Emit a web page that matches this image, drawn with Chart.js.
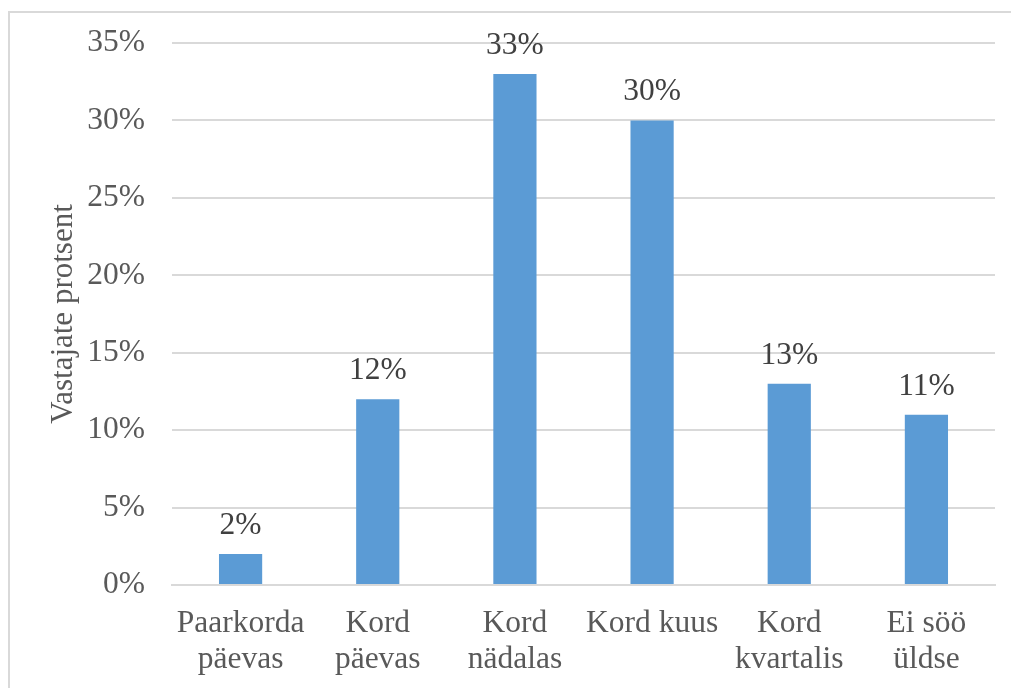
<!DOCTYPE html>
<html>
<head>
<meta charset="utf-8">
<script src="https://cdn.jsdelivr.net/npm/chart.js@4"></script>
<style>
  html, body { margin: 0; padding: 0; background: #fff; overflow: hidden; }
  #frame { position: absolute; left: 8px; top: 11px; width: 1100px; height: 800px; border: 2px solid #d9d9d9; box-sizing: border-box; }
  #wrap { position: absolute; left: 0; top: 0; width: 1011px; height: 688px; }
</style>
</head>
<body>
<div id="frame"></div>
<div id="wrap"><canvas id="c" width="1011" height="688"></canvas></div>
<script>
const categories = [
  ["Paarkorda", "päevas"],
  ["Kord", "päevas"],
  ["Kord", "nädalas"],
  "Kord kuus",
  ["Kord", "kvartalis"],
  ["Ei söö", "üldse"]
];
const shares = [2, 12, 33, 30, 13, 11];
const yTicks = [0, 5, 10, 15, 20, 25, 30, 35];
const axisTitle = "Vastajate protsent";

const FONT = "'Liberation Serif', 'Times New Roman', serif";
const TEXT = "#595959";

// percentage label above each bar
const valueLabels = {
  id: 'valueLabels',
  afterDatasetsDraw(chart) {
    const ctx = chart.ctx;
    const meta = chart.getDatasetMeta(0);
    ctx.save();
    ctx.font = "31.5px " + FONT;
    ctx.fillStyle = "#404040";
    ctx.textAlign = "center";
    ctx.textBaseline = "alphabetic";
    meta.data.forEach((bar, i) => {
      ctx.fillText(shares[i] + "%", bar.x, bar.y - 20);
    });
    ctx.restore();
  }
};

new Chart(document.getElementById('c'), {
  type: 'bar',
  data: {
    labels: categories,
    datasets: [{
      data: shares,
      backgroundColor: '#5B9BD5',
      borderWidth: 0,
      categoryPercentage: 1,
      barPercentage: 0.315
    }]
  },
  options: {
    responsive: false,
    animation: false,
    devicePixelRatio: 1,
    layout: { padding: { top: 43, right: 16, bottom: 0, left: 0 } },
    plugins: { legend: { display: false }, tooltip: { enabled: false } },
    scales: {
      x: {
        grid: { display: false, drawTicks: false },
        border: { color: '#d9d9d9', width: 2 },
        ticks: {
          font: { family: FONT, size: 31.5, lineHeight: 1.16 },
          color: TEXT,
          padding: 20,
          maxRotation: 0,
          autoSkip: false
        },
        afterFit(scale) { scale.height = 103; }
      },
      y: {
        min: 0,
        max: 35,
        afterBuildTicks(scale) { scale.ticks = yTicks.map(v => ({ value: v })); },
        grid: { color: '#d9d9d9', lineWidth: 2, drawTicks: false },
        border: { display: false },
        ticks: {
          font: { family: FONT, size: 31.5 },
          color: TEXT,
          padding: 27,
          callback: v => v + '%'
        },
        title: {
          display: true,
          text: axisTitle,
          font: { family: FONT, size: 31, lineHeight: 1.2 },
          color: TEXT,
          padding: { top: 45, bottom: 0 }
        },
        afterFit(scale) {
          scale.width = 172;
          // plot top is set by the layout padding alone
          scale.paddingTop = 0;
          scale.paddingBottom = 0;
        }
      }
    }
  },
  plugins: [valueLabels]
});
</script>
</body>
</html>
